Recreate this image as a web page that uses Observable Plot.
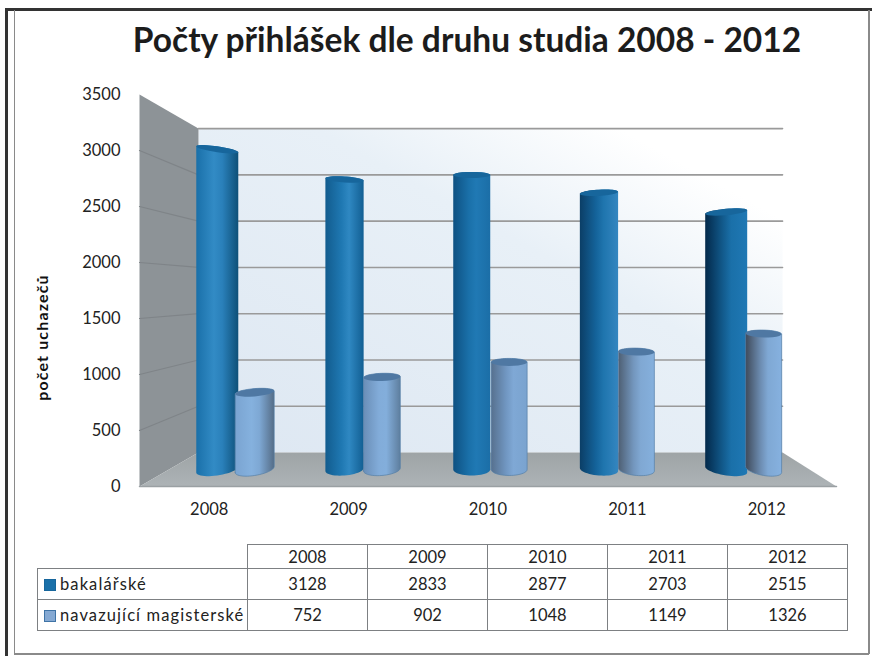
<!DOCTYPE html>
<html lang="cs">
<head>
<meta charset="utf-8">
<script src="https://cdn.jsdelivr.net/npm/d3@7"></script>
<script src="https://cdn.jsdelivr.net/npm/@observablehq/plot@0.6"></script>
<style>
  html, body { margin: 0; padding: 0; background: #fff; }
  body { position: relative; width: 872px; height: 656px; overflow: hidden; font-family: Lato, sans-serif; color: #222; }
  .frame { position: absolute; }
  h1 { margin: 0; height: 72px; padding-top: 19px; box-sizing: border-box; width: 934px; text-align: center; font-size: 33.5px; line-height: 40px; font-weight: 700; color: #1c1c1c; white-space: nowrap; }
  #chart svg { display: block; }
  table { position: absolute; left: 37px; top: 544px; border-collapse: collapse; table-layout: fixed; width: 810px; font-size: 16.5px; }
  td, th { border: 1.5px solid #7d8083; text-align: center; font-weight: 400; padding: 0; }
  th { height: 23px; }
  td { height: 30px; }
  th.blank { border: none; border-bottom: 1.5px solid #7d8083; }
  td.name { text-align: left; padding-left: 6px; letter-spacing: 1.1px; white-space: nowrap; }
  .sw { display: inline-block; width: 12px; height: 12px; margin-right: 4px; vertical-align: -1px; box-sizing: border-box; }
</style>
</head>
<body>
<div class="frame" style="left:5px;top:8px;width:867px;height:2.5px;background:#333"></div>
<div class="frame" style="left:5px;top:8px;width:2.5px;height:648px;background:#333"></div>
<div class="frame" style="left:14px;top:10px;width:1px;height:643px;background:#8a8a8a"></div>
<div class="frame" style="left:868px;top:10px;width:1.5px;height:644px;background:#8a8a8a"></div>
<div class="frame" style="left:14px;top:653px;width:855px;height:1.5px;background:#8a8a8a"></div>
<h1>Počty přihlášek dle druhu studia 2008 - 2012</h1>
<div id="chart"></div>
<table id="tbl"></table>
<script>
const years = [2008, 2009, 2010, 2011, 2012];
const bakalarske = [3128, 2833, 2877, 2703, 2515];
const navazujici = [752, 902, 1048, 1149, 1326];
const valueTicks = [0, 500, 1000, 1500, 2000, 2500, 3000, 3500];
const seriesNames = ["bakalářské", "navazující magisterské"];
const axisTitle = "počet uchazečů";

// Cylinder shading, one set of stops per year
const bakStops = [
  ["#1a70a9", "#328bc5", "#2a80ba", "#0e5078"],
  ["#125c8e", "#1f78b2", "#2f88c2", "#125f93"],
  ["#0e5182", "#1a70a9", "#2079b4", "#1b6ea7"],
  ["#0b3e66", "#14639a", "#1f75ae", "#3486c0"],
  ["#03294a", "#125a8c", "#1a70a9", "#1f78b4"]
];
const magStops = [
  ["#7aa4d1", "#85b1de", "#7ea8d4", "#556d87"],
  ["#6a8eb7", "#82acd9", "#83aedb", "#5e7e9e"],
  ["#56708e", "#7197c2", "#7fa8d5", "#7aa3cf"],
  ["#4e5f73", "#7396bd", "#80a8d3", "#85b0dd"],
  ["#3f4a5a", "#6d8db2", "#7fa8d4", "#86b1df"]
];

// Projection of the 3-D box into the chart's own scale units
const pxX = 139.4, pxY = 0.112;            // pixels per scale unit
const backCentre = 2.518, backShrinkX = 0.838;
const backShrinkY = 0.8265, backRise = 303;
const backX = c => backCentre + (c - 2.5) * backShrinkX;
const backY = v => v * backShrinkY + backRise;
const W = {
  fl: { x: 0, y: 0 }, fr: { x: 5, y: 0 }, flt: { x: 0, y: 3500 },
  bl: { x: backX(0), y: backY(0) }, br: { x: backX(5), y: backY(0) },
  blt: { x: backX(0), y: backY(3500) }, brt: { x: backX(5), y: backY(3500) }
};

const barScale = 0.914, barBase = 152;
const groupX = i => 2.5175 + (i + 0.5 - 2.5) * 0.9127;
const sideOffset = 18.7 / pxX;
const bakWidth = i => 37 + 1.25 * (i - 2) * (i - 2);
const magWidth = i => 36 + 0.75 * Math.max(0, 2 - i) ** 2;
const rise = (i, v) => ((2 - i) / 2) * (6 - 0.00384 * v);  // pixels the ring climbs left to right
const ringRy = v => (v === 0 ? 6 : 4.2 - 0.0004 * v);

function ringPoint(cx, w, i, v, t) {
  const dx = (w / 2) * Math.cos(t);
  const yOff = ringRy(v) * Math.sin(t) - (rise(i, v) / 2) * Math.cos(t); // +down in pixels
  return { x: cx + dx / pxX, y: barBase + v * barScale - yOff / pxY };
}
const steps = d3.range(0, 25).map(k => k / 24);
function silhouette(cx, w, i, v) {
  const bottom = steps.map(k => ringPoint(cx, w, i, 0, Math.PI * (1 - k)));      // left to right, under
  const top = steps.map(k => ringPoint(cx, w, i, v, Math.PI * (2 - k)));         // right to left, over
  return [...bottom, ...top];
}
const cap = (cx, w, i, v) => steps.map(k => ringPoint(cx, w, i, v, 2 * Math.PI * k));

function grad(id, stops) {
  const o = [0, 0.42, 0.62, 1];
  return `<linearGradient id="${id}" x1="0" x2="1" y1="0" y2="0">` +
    stops.map((c, k) => `<stop offset="${o[k]}" stop-color="${c}"/>`).join("") + `</linearGradient>`;
}
const defsMark = () => {
  const defs = document.createElementNS("http://www.w3.org/2000/svg", "defs");
  defs.innerHTML =
    years.map((y, i) => grad("bak" + i, bakStops[i]) + grad("mag" + i, magStops[i])).join("") +
    `<linearGradient id="wallG" x1="0" y1="1" x2="1" y2="0">
       <stop offset="0" stop-color="#dde7f2"/><stop offset="0.6" stop-color="#e8f0f7"/>
       <stop offset="0.86" stop-color="#ffffff"/></linearGradient>
     <linearGradient id="floorG" x1="0" y1="0" x2="0" y2="1">
       <stop offset="0" stop-color="#9ea4a6"/><stop offset="1" stop-color="#adb3b6"/></linearGradient>`;
  return defs;
};
const poly = (pts, fill, stroke = "none") => Plot.line(pts, { x: "x", y: "y", fill, stroke, strokeWidth: 0.7, curve: "linear" });

const cylinders = [];
["bak", "mag"].forEach(kind => {
  years.forEach((y, i) => {
    const isBak = kind === "bak";
    const v = isBak ? bakalarske[i] : navazujici[i];
    const cx = groupX(i) + (isBak ? -sideOffset : sideOffset);
    const w = isBak ? bakWidth(i) : magWidth(i);
    cylinders.push(poly([...silhouette(cx, w, i, v), ringPoint(cx, w, i, 0, Math.PI)], `url(#${kind}${i})`, isBak ? "none" : "#5580a8"));
    cylinders.push(poly(cap(cx, w, i, v), isBak ? "#17669c" : "#4f78a3"));
  });
});

const plot = Plot.plot({
  width: 872, height: 472,
  marginTop: 22, marginBottom: 58, marginLeft: 139, marginRight: 36,
  x: { domain: [0, 5] },
  y: { domain: [0, 3500] },
  style: { fontFamily: "Lato, sans-serif", fontSize: "16.5px", color: "#222", background: "transparent", overflow: "visible" },
  marks: [
    defsMark,
    poly([W.bl, W.br, W.brt, W.blt], "url(#wallG)"),
    poly([W.fl, W.bl, W.blt, W.flt], "#8d9397"),
    poly([W.fl, W.fr, W.br, W.bl], "url(#floorG)"),
    ...valueTicks.slice(1).map(t =>
      Plot.line([{ x: W.bl.x, y: backY(t) }, { x: W.br.x, y: backY(t) }], { x: "x", y: "y", stroke: "#9a9a9a", strokeWidth: 1.6 })),
    ...valueTicks.slice(1, -1).map(t =>
      Plot.line([{ x: W.fl.x, y: t }, { x: W.bl.x, y: backY(t) }], { x: "x", y: "y", stroke: "#7f8488", strokeWidth: 1.2 })),
    Plot.line([W.fl, W.fr], { x: "x", y: "y", stroke: "#9aa0a3", strokeWidth: 1.5 }),
    ...cylinders,
    Plot.axisY(valueTicks, { tickSize: 0, tickPadding: 19, label: null, tickFormat: d => String(d), dy: 0.5 }),
    Plot.axisX(years.map((y, i) => i + 0.5), { tickSize: 0, tickPadding: 17, label: null, tickFormat: d => String(years[d - 0.5]) }),
    Plot.text([axisTitle], {
      text: d => d, y: () => 1330, frameAnchor: "left", textAnchor: "middle", rotate: -90, dx: -97,
      fontSize: 16, fontWeight: 700, fill: "#111",
      render: (index, scales, values, dimensions, context, next) => {
        const g = next(index, scales, values, dimensions, context);
        g.style.letterSpacing = "1.15px";
        return g;
      }
    })
  ]
});
document.getElementById("chart").appendChild(plot);

const colW = [210, 120, 120, 120, 120, 120];
const tbl = document.getElementById("tbl");
const cg = "<colgroup>" + colW.map(w => `<col style="width:${w}px">`).join("") + "</colgroup>";
const head = "<tr><th class='blank'></th>" + years.map(y => `<th>${y}</th>`).join("") + "</tr>";
const row = (name, vals, fill, edge) => `<tr><td class="name"><span class="sw" style="background:${fill};border:1.5px solid ${edge}"></span>${name}</td>` + vals.map(v => `<td>${v}</td>`).join("") + "</tr>";
tbl.innerHTML = cg + head + row(seriesNames[0], bakalarske, "#1a70a9", "#17669c") + row(seriesNames[1], navazujici, "#85a9d3", "#3f74a6");
</script>
</body>
</html>
